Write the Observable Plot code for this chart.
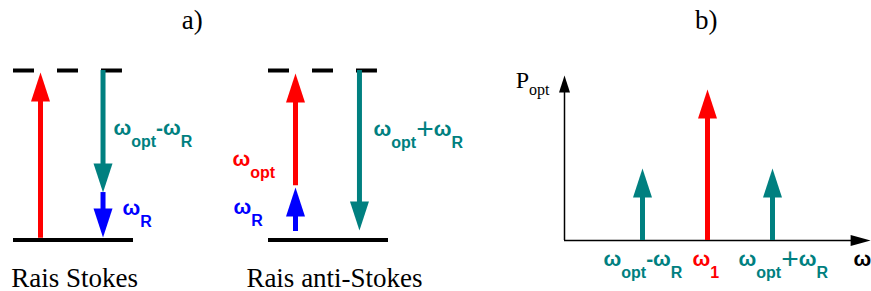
<!DOCTYPE html>
<html><head><meta charset="utf-8">
<script src="https://cdn.jsdelivr.net/npm/d3@7"></script>
<script src="https://cdn.jsdelivr.net/npm/@observablehq/plot@0.6"></script>
<style>
body{margin:0;background:#fff;}
#wrap{display:flex;width:871px;height:291px;overflow:hidden;}
#wrap svg{display:block;}
</style></head><body><div id="wrap"></div>
<script>
// ---------------- DATA ----------------
const COLORS = {red: "#ff0000", teal: "#008080", blue: "#0000ff", black: "#000000"};

// panel a) : energy-level diagrams (x in level widths, y in energy units: ground = 0, virtual = 1)
const panelTitles = ["a)", "b)"];
const panelTitleX = [1.49, -0.02];
const diagramNames = ["Rais Stokes", "Rais anti-Stokes"];
const diagramOffsets = [0, 2.125];
const diagramCaptionX = [0.51, 0.55];
const groundEnergy = 0;
const virtualEnergy = 1;
const virtualLevelLength = 0.908;

const trDiagram = [0, 0, 0, 1, 1, 1];
const trX      = [0.225, 0.746, 0.746, 0.225, 0.225, 0.758];
const trFrom   = [0.01, 1.0, 0.28, 0.05, 0.32, 1.0];
const trTo     = [0.988, 0.28, 0.015, 0.31, 0.982, 0.056];
const trColor  = ["red", "teal", "blue", "blue", "red", "teal"];

const lbDiagram = [0, 0, 1, 1, 1];
const lbX       = [0.833, 0.908, -0.30, -0.292, 0.875];
const lbY       = [0.617, 0.145, 0.434, 0.156, 0.611];
const lbText    = ["ω_{opt}-ω_{R}", "ω_{R}", "ω_{opt}", "ω_{R}", "ω_{opt}+ω_{R}"];
const lbColor   = ["teal", "blue", "red", "blue", "teal"];

// panel b) : spectrum (x in units of ω_R around ω_opt, y = relative power)
const lineFreq   = [-1, 0, 1];
const linePower  = [0.477, 1, 0.477];
const lineColor  = ["teal", "red", "teal"];
const lineLabel  = ["ω_{opt}-ω_{R}", "ω_{1}", "ω_{opt}+ω_{R}"];
const lineLabelX = [-1.6, -0.23, 0.477];
const lineLabelY = -0.166;
const axisFreqRange = [-2.2, 2.51];
const axisPowerMax = 1.093;
const xAxisLabel = "ω";
const xAxisLabelX = 2.246;
const yAxisLabel = "P_{opt}";
const yAxisLabelPos = [-2.95, 1.007];

// ---------------- HELPERS ----------------
const head = (w, h) => ({draw(c) { c.moveTo(0, 0); c.lineTo(w / 2, h); c.lineTo(-w / 2, h); c.closePath(); }});

function richText(svg) {
  d3.select(svg).selectAll("text").each(function () {
    const t = this.textContent;
    if (!t.includes("_{")) return;
    const g = this.closest("g");
    const serif = ((g && g.getAttribute("font-family")) || "").includes("Serif");
    const subSize = 16, subShift = serif ? 7 : 12, plusSize = 30;
    const segs = [];
    for (const m of t.matchAll(/_\{([^}]*)\}|([^_]+)/g)) {
      if (m[1] != null) segs.push({text: m[1], size: subSize, shift: subShift});
      else {
        for (const part of m[2].split(/(\+)/)) {
          if (!part) continue;
          if (part === "+") segs.push({text: "+", size: plusSize, shift: 3, weight: "normal"});
          else segs.push({text: part, size: null, shift: 0});
        }
      }
    }
    const sel = d3.select(this);
    sel.text(null);
    let prev = 0;
    for (const s of segs) {
      const ts = sel.append("tspan").text(s.text);
      if (s.size) ts.attr("font-size", s.size);
      if (s.weight) ts.attr("font-weight", s.weight);
      if (s.shift - prev) ts.attr("dy", s.shift - prev);
      prev = s.shift;
    }
  });
}

// ---------------- PANEL A ----------------
const transitions = trX.map((x, i) => ({
  x: diagramOffsets[trDiagram[i]] + x, from: trFrom[i], to: trTo[i],
  color: COLORS[trColor[i]], up: trTo[i] > trFrom[i]
}));
const labelsA = lbX.map((x, i) => ({
  x: diagramOffsets[lbDiagram[i]] + x, y: lbY[i], text: lbText[i], color: COLORS[lbColor[i]]
}));

const plotA = Plot.plot({
  width: 480, height: 291, margin: 0,
  x: {domain: [0, 1], range: [13, 133], axis: null},
  y: {domain: [0, 1], range: [239.5, 70], axis: null},
  color: {type: "identity"},
  marks: [
    Plot.ruleY(diagramOffsets, {y: groundEnergy, x1: d => d, x2: d => d + 1, strokeWidth: 4, stroke: "#000"}),
    Plot.ruleY(diagramOffsets, {y: virtualEnergy, x1: d => d, x2: d => d + virtualLevelLength, strokeWidth: 4, stroke: "#000", strokeDasharray: "21,23"}),
    Plot.ruleX(transitions.filter(d => d.up), {x: "x", y1: "to", y2: "from", stroke: "color", strokeWidth: 5, insetTop: 26}),
    Plot.ruleX(transitions.filter(d => !d.up), {x: "x", y1: "from", y2: "to", stroke: "color", strokeWidth: 5, insetBottom: 26}),
    Plot.dot(transitions, {x: "x", y: "to", fill: "color", stroke: "none", symbol: head(19, 29), rotate: d => d.up ? 0 : 180}),
    Plot.text(labelsA, {x: "x", y: "y", text: "text", fill: "color", textAnchor: "start", lineAnchor: "bottom",
      fontSize: 21, fontWeight: "bold", fontFamily: "Liberation Sans"}),
    Plot.text(diagramOffsets, {x: (d, i) => d + diagramCaptionX[i], frameAnchor: "bottom", lineAnchor: "bottom", dy: -5,
      text: (d, i) => diagramNames[i], fontSize: 27, fontFamily: "Liberation Serif", fill: "#000"}),
    Plot.text([panelTitles[0]], {x: panelTitleX[0], frameAnchor: "top", lineAnchor: "bottom", dy: 28,
      fontSize: 27, fontFamily: "Liberation Serif", fill: "#000"})
  ]
});
richText(plotA);

// ---------------- PANEL B ----------------
const spectrum = lineFreq.map((f, i) => ({f, p: linePower[i], color: COLORS[lineColor[i]], label: lineLabel[i], lx: lineLabelX[i]}));
const axisTips = [
  {x: axisFreqRange[0], y: axisPowerMax, rotate: 0},
  {x: axisFreqRange[1], y: 0, rotate: 90}
];

const plotB = Plot.plot({
  width: 391, height: 291, margin: 0,
  x: {domain: [-1, 1], range: [162, 292], axis: null},
  y: {domain: [0, 1], range: [240, 89], axis: null},
  color: {type: "identity"},
  marks: [
    Plot.ruleY([0], {x1: axisFreqRange[0], x2: axisFreqRange[1], strokeWidth: 1.5, stroke: "#000", insetRight: 17}),
    Plot.ruleX([axisFreqRange[0]], {y1: axisPowerMax, y2: 0, strokeWidth: 1.5, stroke: "#000", insetTop: 14}),
    Plot.dot(axisTips.slice(0, 1), {x: "x", y: "y", fill: "#000", stroke: "none", symbol: head(11, 17), rotate: "rotate"}),
    Plot.dot(axisTips.slice(1), {x: "x", y: "y", fill: "#000", stroke: "none", symbol: head(11, 20), rotate: "rotate"}),
    Plot.ruleX(spectrum, {x: "f", y1: "p", y2: 0, stroke: "color", strokeWidth: 5, insetTop: 26}),
    Plot.dot(spectrum, {x: "f", y: "p", fill: "color", stroke: "none", symbol: head(19, 29)}),
    Plot.text(spectrum, {x: "lx", y: lineLabelY, text: "label", fill: "color", textAnchor: "start", lineAnchor: "bottom",
      fontSize: 21, fontWeight: "bold", fontFamily: "Liberation Sans"}),
    Plot.text([xAxisLabel], {x: xAxisLabelX, y: lineLabelY, textAnchor: "start", lineAnchor: "bottom",
      fontSize: 21, fontWeight: "bold", fontFamily: "Liberation Sans", fill: "#000"}),
    Plot.text([yAxisLabel], {x: yAxisLabelPos[0], y: yAxisLabelPos[1], textAnchor: "start", lineAnchor: "bottom",
      fontSize: 24, fontFamily: "Liberation Serif", fill: "#000"}),
    Plot.text([panelTitles[1]], {x: panelTitleX[1], frameAnchor: "top", lineAnchor: "bottom", dy: 28,
      fontSize: 27, fontFamily: "Liberation Serif", fill: "#000"})
  ]
});
richText(plotB);

document.getElementById("wrap").append(plotA, plotB);
</script></body></html>
